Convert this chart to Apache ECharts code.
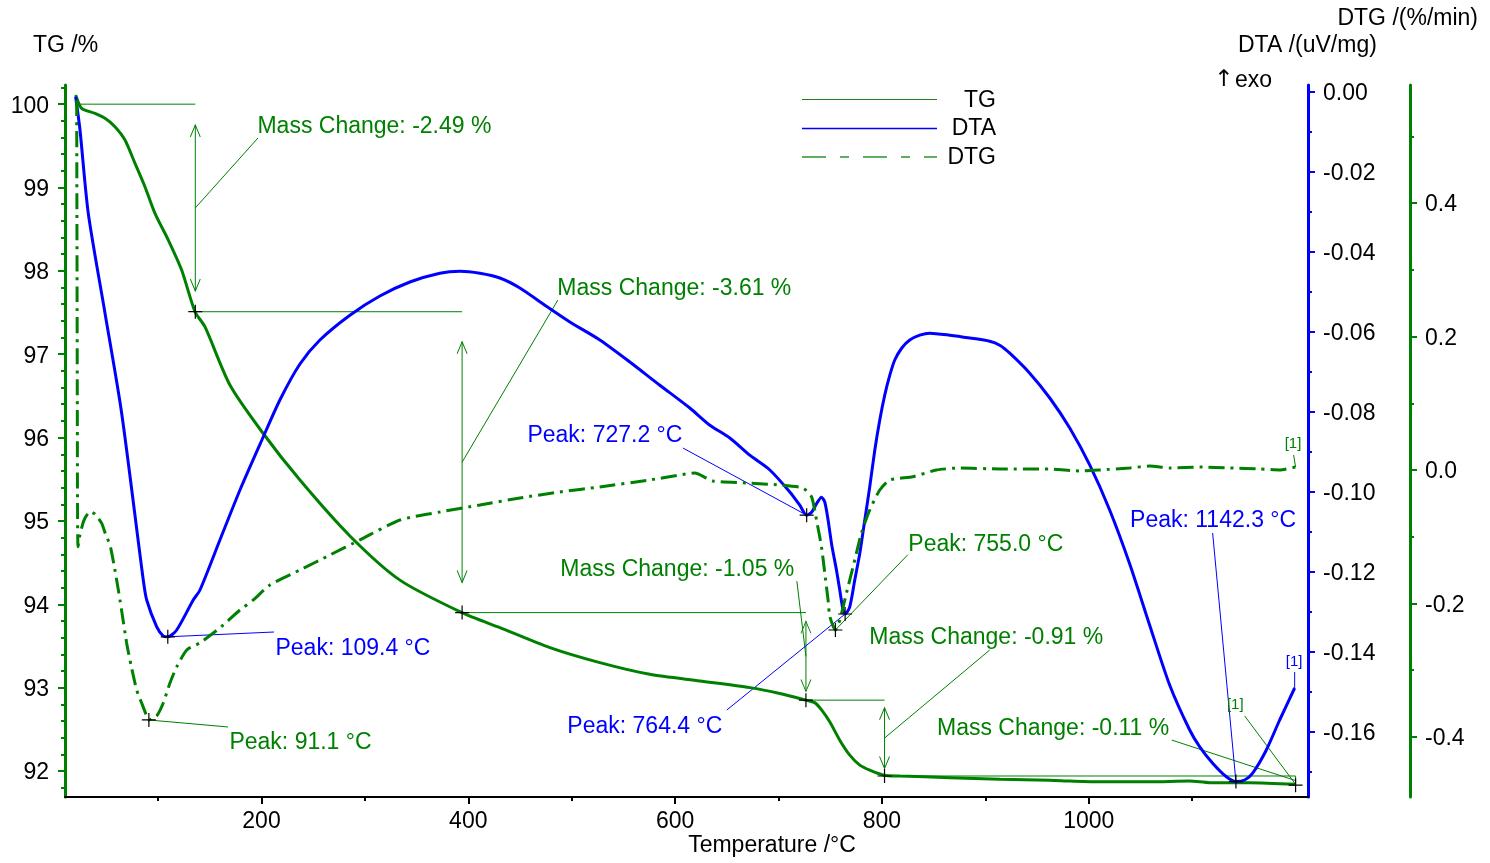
<!DOCTYPE html>
<html><head><meta charset="utf-8">
<script src="https://cdn.jsdelivr.net/npm/echarts@6/dist/echarts.min.js"></script>
<style>html,body{margin:0;padding:0;background:#fff}#c{width:1490px;height:863px}</style>
</head><body><div id="c"></div>
<script>
// ---------------- data ----------------
const tgTemps = [20.3, 26.1, 39, 48.7, 58.3, 68, 77.7, 87.3, 97, 109.9, 122.8, 135.7, 145.3, 169.5, 200.4, 237.2, 285.5, 333.9, 393.8, 430.5, 478.9, 527.2, 575.5, 623.9, 672.2, 701.2, 726.4, 735, 741.8, 749.5, 759.2, 768.9, 778.6, 788.2, 801.8, 817.2, 865.6, 913.9, 962.3, 981.6, 1010.6, 1058.9, 1097.6, 1116.9, 1155.6, 1200];
const tgValues = [100.11, 99.95, 99.89, 99.83, 99.73, 99.57, 99.29, 99.01, 98.69, 98.37, 98.01, 97.51, 97.33, 96.63, 96.07, 95.49, 94.82, 94.29, 93.90, 93.72, 93.48, 93.30, 93.16, 93.08, 93.00, 92.93, 92.85, 92.82, 92.73, 92.59, 92.37, 92.19, 92.07, 92.01, 91.95, 91.94, 91.92, 91.90, 91.89, 91.88, 91.87, 91.87, 91.88, 91.86, 91.86, 91.84];

const dtaTemps = [20.3, 24.5, 32.5, 48.7, 64.8, 85.7, 89, 98.7, 105, 109.4, 118, 134, 140.5, 159.8, 179.2, 200.4, 217.8, 237.2, 256.5, 285.5, 314.5, 343.5, 372.5, 391.9, 411.2, 430.5, 449.9, 474, 498.2, 527.2, 556.2, 585.2, 614.2, 633.6, 652.9, 672.2, 691.6, 710.9, 720.5, 727.2, 732.2, 737, 741.5, 744.7, 747.9, 751.5, 756, 759.2, 762.4, 764.4, 768.9, 773.7, 778.6, 783.4, 788.2, 793.1, 797.9, 802.7, 807.6, 812.4, 819.2, 826.9, 836.6, 846.2, 865.6, 885, 904.2, 913.9, 923.6, 942.9, 962.3, 981.6, 1001, 1020.2, 1039.6, 1058.9, 1078.3, 1097.6, 1107.3, 1119.8, 1133.1, 1142.3, 1150.8, 1158.5, 1171.7, 1184.6, 1199.1];
const dtaValues = [-0.0012, -0.0095, -0.0303, -0.0553, -0.0803, -0.122, -0.127, -0.1337, -0.136, -0.1362, -0.1345, -0.127, -0.1245, -0.112, -0.0995, -0.087, -0.077, -0.068, -0.062, -0.0558, -0.051, -0.0475, -0.0453, -0.0448, -0.0453, -0.0465, -0.049, -0.0533, -0.0575, -0.062, -0.0675, -0.0733, -0.079, -0.0833, -0.0865, -0.0908, -0.0945, -0.1, -0.1033, -0.1058, -0.105, -0.1028, -0.1013, -0.1025, -0.107, -0.1133, -0.1195, -0.1245, -0.1295, -0.1305, -0.1287, -0.122, -0.1153, -0.107, -0.0987, -0.0895, -0.082, -0.0758, -0.0708, -0.067, -0.064, -0.062, -0.0608, -0.0603, -0.0608, -0.0615, -0.0623, -0.0633, -0.0653, -0.0703, -0.0765, -0.084, -0.0933, -0.1045, -0.118, -0.1333, -0.1483, -0.1595, -0.1637, -0.1678, -0.1712, -0.1724, -0.172, -0.1703, -0.1645, -0.157, -0.149];

const dtgTemps = [21.3, 21.5, 21.7, 21.9, 22.1, 22.6, 24.5, 28.4, 34.2, 39, 45.5, 49.6, 53.5, 58.3, 63.2, 69.6, 73.8, 79.3, 84.1, 89, 91.1, 94.1, 98.7, 105, 111.5, 118, 127.7, 140.5, 153.4, 163, 179.2, 192.1, 208.2, 237.2, 266.2, 295.2, 333.9, 372.5, 411.2, 449.9, 488.5, 527.2, 575.5, 604.5, 619, 636.4, 669, 701.2, 723.5, 731.9, 736.7, 741.5, 744.7, 747.9, 749.6, 755, 759.2, 765.7, 772.1, 780.2, 788.2, 797.9, 807.6, 829.8, 852.7, 875.2, 913.9, 962.3, 991.2, 1010.6, 1039.6, 1058.9, 1078.3, 1107.3, 1136.3, 1165.3, 1184.6, 1200];
const dtgValues = [0.554, 0.405, 0.255, 0.105, -0.045, -0.115, -0.097, -0.075, -0.0625, -0.066, -0.08, -0.098, -0.112, -0.15, -0.195, -0.259, -0.292, -0.3295, -0.349, -0.3685, -0.3745, -0.373, -0.3685, -0.349, -0.319, -0.295, -0.2696, -0.259, -0.2442, -0.2322, -0.2097, -0.1947, -0.1722, -0.1498, -0.1273, -0.1048, -0.0749, -0.0629, -0.0524, -0.0419, -0.0329, -0.0254, -0.0149, -0.0075, -0.0045, -0.0164, -0.0194, -0.0224, -0.0269, -0.04, -0.0749, -0.1148, -0.1543, -0.1947, -0.2198, -0.2397, -0.2248, -0.1843, -0.1448, -0.0944, -0.0599, -0.03, -0.015, -0.01, 0.0, 0.003, 0.0015, 0.0015, -0.0015, 0.0, 0.003, 0.006, 0.003, 0.0045, 0.003, 0.0015, 0.0, 0.0045];

// mass change steps (TG)
const massChangeLabels = ['Mass Change: -2.49 %', 'Mass Change: -3.61 %', 'Mass Change: -1.05 %', 'Mass Change: -0.91 %', 'Mass Change: -0.11 %'];
const massStepTemps = [20, 136, 394, 726.5, 802.5, 1200];
const massLevels = [100.0, 97.51, 93.90, 92.85, 91.94, 91.83];

// peaks
const dtaPeakLabels = ['Peak: 109.4 °C', 'Peak: 727.2 °C', 'Peak: 764.4 °C', 'Peak: 1142.3 °C'];
const dtaPeakTemps = [109.4, 727.2, 764.4, 1142.3];
const dtaPeakValues = [-0.1362, -0.1058, -0.1305, -0.1724];
const dtgPeakLabels = ['Peak: 91.1 °C', 'Peak: 755.0 °C'];
const dtgPeakTemps = [91.1, 755.0];
const dtgPeakValues = [-0.3745, -0.2397];

// tick labels
const tempTicks = [200, 400, 600, 800, 1000];
const tempMinorTicks = [100, 300, 500, 700, 900, 1100];
const tgTicks = [92, 93, 94, 95, 96, 97, 98, 99, 100];
const dtaTicks = [0, -0.02, -0.04, -0.06, -0.08, -0.10, -0.12, -0.14, -0.16];
const dtaMinorTicks = [-0.01, -0.03, -0.05, -0.07, -0.09, -0.11, -0.13, -0.15, -0.17];
const dtgTicks = [0.4, 0.2, 0, -0.2, -0.4];
const dtgMinorTicks = [0.5, 0.3, 0.1, -0.1, -0.3];

// ---------------- layout (annotation placement in data coordinates) ----------------
const massLeaderEnds = [[196.6, 99.594], [486.6, 97.65], [717.7, 94.279], [904.2, 93.451], [1080.2, 92.371]];
const massTextAnchors = [[196.6, 99.75, 'left'], [486.6, 97.806, 'left'], [715.7, 94.435, 'right'], [788.2, 93.619, 'left'], [1078.3, 92.527, 'right']];
const dtaLeaderEnds = [[212.1, -0.1350], [607.5, -0.089], [650, -0.1545], [1119.8, -0.11025]];
const dtaTextAnchors = [[214, -0.13875, 'left'], [607.5, -0.0855, 'right'], [646.1, -0.15825, 'right'], [1201, -0.10675, 'right']];
const dtgLeaderEnds = [[167.6, -0.385], [825, -0.127]];
const dtgTextAnchors = [[169.5, -0.406, 'left'], [826, -0.1093, 'left']];

const FONT = '"Liberation Sans", Arial, sans-serif';
const GREEN = '#008000', BLUE = '#0000ff';
const FS = 23;
const PLOT_H = 712;       // grid height in px (863 - 85 - 66)
const LABEL_DROP = 2;     // tick label vertical nudge in px

const zip = (a, b) => a.map((v, i) => [v, b[i]]);
const tgMinorTicks = [];
for (let k = 459; k <= 501; k++) { if (k % 5) tgMinorTicks.push(k / 5); }

const series = [];
function seg(points, yi, color) {
  series.push({ type: 'line', xAxisIndex: 0, yAxisIndex: yi, data: points, symbol: 'none', silent: true,
    lineStyle: { color: color, width: 1 }, z: 3, animation: false });
}

// curves
series.push({ type: 'line', name: 'TG', xAxisIndex: 0, yAxisIndex: 0, data: zip(tgTemps, tgValues), symbol: 'none', smooth: 0.25,
  lineStyle: { color: GREEN, width: 3 }, z: 5, silent: true });
series.push({ type: 'line', name: 'DTA', xAxisIndex: 0, yAxisIndex: 1, data: zip(dtaTemps, dtaValues), symbol: 'none', smooth: 0.25,
  lineStyle: { color: BLUE, width: 3 }, z: 5, silent: true });
series.push({ type: 'line', name: 'DTG', xAxisIndex: 0, yAxisIndex: 2, data: zip(dtgTemps, dtgValues), symbol: 'none', smooth: 0.2,
  lineStyle: { color: GREEN, width: 3, type: [16, 6, 3, 6] }, z: 5, silent: true });

// mass change annotations
const arrowData = [];
const tgMarkers = [];
const massTexts = [];
for (let i = 0; i < massChangeLabels.length; i++) {
  const x0 = massStepTemps[i], x1 = massStepTemps[i + 1];
  const a = massLevels[i], b = massLevels[i + 1];
  seg([[x0, a], [x1, a]], 0, GREEN);
  if (i < massChangeLabels.length - 1) {
    const inset = 0.1 * (a - b);
    seg([[x1, a - inset], [x1, b + inset]], 0, GREEN);
    arrowData.push({ value: [x1, a - inset], symbol: 'path://M0,12L5,0L10,12', symbolOffset: [0, 6] });
    arrowData.push({ value: [x1, b + inset], symbol: 'path://M0,0L5,12L10,0', symbolOffset: [0, -6] });
  } else {
    seg([[x1, a], [x1, b]], 0, GREEN);
  }
  seg([[x1, (a + b) / 2], massLeaderEnds[i]], 0, GREEN);
  tgMarkers.push([x1, b]);
  const t = massTextAnchors[i];
  massTexts.push({ value: [t[0], t[1]], label: { formatter: massChangeLabels[i], align: t[2] } });
}
// end reference "[1]"
seg([[1200, 91.84], [1150.8, 92.66]], 0, GREEN);
seg([[1200, 0.0045], [1198.1, 0.0225]], 2, GREEN);
seg([[1199.1, -0.149], [1199.1, -0.145]], 1, BLUE);

// peak annotations
const dtaTexts = [], dtgTexts = [];
for (let i = 0; i < dtaPeakLabels.length; i++) {
  seg([[dtaPeakTemps[i], dtaPeakValues[i]], dtaLeaderEnds[i]], 1, BLUE);
  const t = dtaTextAnchors[i];
  dtaTexts.push({ value: [t[0], t[1]], label: { formatter: dtaPeakLabels[i], align: t[2] } });
}
for (let i = 0; i < dtgPeakLabels.length; i++) {
  seg([[dtgPeakTemps[i], dtgPeakValues[i]], dtgLeaderEnds[i]], 2, GREEN);
  const t = dtgTextAnchors[i];
  dtgTexts.push({ value: [t[0], t[1]], label: { formatter: dtgPeakLabels[i], align: t[2] } });
}

const crossSym = 'path://M0,7L14,7M7,0L7,14';
function markers(data, yi) {
  series.push({ type: 'scatter', xAxisIndex: 0, yAxisIndex: yi, data: data, symbol: crossSym, symbolSize: 14, silent: true, z: 10,
    itemStyle: { color: 'rgba(0,0,0,0)', borderColor: '#000', borderWidth: 1.2, opacity: 1 } });
}
markers(tgMarkers, 0);
markers(zip(dtaPeakTemps, dtaPeakValues), 1);
markers(zip(dtgPeakTemps, dtgPeakValues), 2);

series.push({ type: 'scatter', xAxisIndex: 0, yAxisIndex: 0, data: arrowData, symbolSize: [10, 12], silent: true, z: 6,
  itemStyle: { color: 'rgba(0,0,0,0)', borderColor: GREEN, borderWidth: 1, opacity: 1 } });

function texts(data, yi, color, size) {
  series.push({ type: 'scatter', xAxisIndex: 0, yAxisIndex: yi, data: data, symbol: 'circle', symbolSize: 1, silent: true, z: 12,
    itemStyle: { color: 'rgba(0,0,0,0)', opacity: 1 },
    label: { show: true, position: [0, 2], verticalAlign: 'middle', color: color, opacity: 1, fontSize: size || FS, fontFamily: FONT } });
}
texts(massTexts, 0, GREEN);
texts(dtaTexts, 1, BLUE);
texts(dtgTexts, 2, GREEN);
texts([{ value: [1142.1, 92.816], label: { formatter: '[1]', align: 'center' } }], 0, GREEN, 15);
texts([{ value: [1198, 0.042], label: { formatter: '[1]', align: 'center' } }], 2, GREEN, 15);
texts([{ value: [1199, -0.142], label: { formatter: '[1]', align: 'center' } }], 1, BLUE, 15);

const labelBase = { color: '#000', fontSize: FS, fontFamily: FONT };
// step: label spacing (used to snap the nudged label position back to its tick value)
function yAx(pos, offset, min, max, color, ticks, step, decimals, margin, minor) {
  const drop = LABEL_DROP * (max - min) / PLOT_H;
  const fmt = v => { let s = Math.round(v / step) * step; if (Math.abs(s) < 1e-9) s = 0; return s.toFixed(decimals); };
  return {
    type: 'value', position: pos, offset: offset, min: min, max: max, scale: true,
    axisLine: { show: !minor, onZero: false, lineStyle: { color: color, width: 3 } },
    axisTick: { show: true, customValues: ticks, length: minor ? 4 : 7, lineStyle: { color: color, width: 2 } },
    axisLabel: minor ? { show: false } : Object.assign({ show: true, customValues: ticks.map(t => t - drop), margin: margin, formatter: fmt }, labelBase),
    splitLine: { show: false }
  };
}

function gText(x, y, text, align, family) {
  return { type: 'text', x: x, y: y, style: { text: text, fontSize: FS, fontFamily: family || FONT, fill: '#000', align: align || 'left', verticalAlign: 'middle' } };
}

const option = {
  animation: false,
  backgroundColor: '#fff',
  grid: { left: 65, right: 182, top: 85, bottom: 66 },
  xAxis: [
    { type: 'value', min: 10, max: 1212, position: 'bottom',
      axisLine: { onZero: false, lineStyle: { color: '#000', width: 2 } },
      axisTick: { customValues: tempTicks, length: 7, lineStyle: { color: '#000', width: 2 } },
      axisLabel: Object.assign({ customValues: tempTicks, margin: 13, formatter: v => String(v) }, labelBase),
      splitLine: { show: false } },
    { type: 'value', min: 10, max: 1212, position: 'bottom',
      axisLine: { show: false, onZero: false },
      axisTick: { customValues: tempMinorTicks, length: 4, lineStyle: { color: '#000', width: 2 } },
      axisLabel: { show: false }, splitLine: { show: false } }
  ],
  yAxis: [
    yAx('left', 0, 91.688, 100.23, GREEN, tgTicks, 1, 0, 16, false),
    yAx('right', 0, -0.17625, 0.00175, BLUE, dtaTicks, 0.02, 2, 15, false),
    yAx('right', 102, -0.4899, 0.5768, GREEN, dtgTicks, 0.2, 1, 15, false),
    yAx('left', 0, 91.688, 100.23, GREEN, tgMinorTicks, 1, 0, 0, true),
    yAx('right', 0, -0.17625, 0.00175, BLUE, dtaMinorTicks, 0.02, 2, 0, true),
    yAx('right', 102, -0.4899, 0.5768, GREEN, dtgMinorTicks, 0.2, 1, 0, true)
  ],
  series: series,
  graphic: [
    gText(33, 46, 'TG /%'),
    gText(1238, 46, 'DTA /(uV/mg)'),
    gText(1478, 19, 'DTG /(%/min)', 'right'),
    gText(1214, 80, '↑', 'left', '"DejaVu Sans", ' + FONT),
    gText(1235, 81, 'exo'),
    gText(772, 846, 'Temperature /°C', 'center'),
    { type: 'line', shape: { x1: 802, y1: 99.5, x2: 937, y2: 99.5 }, style: { stroke: '#1f7f1f', lineWidth: 1 } },
    { type: 'line', shape: { x1: 802, y1: 128.5, x2: 937, y2: 128.5 }, style: { stroke: BLUE, lineWidth: 1.5 } },
    { type: 'line', shape: { x1: 802, y1: 157, x2: 937, y2: 157 }, style: { stroke: '#5fae5f', lineWidth: 2, lineDash: [24, 14, 9, 14] } },
    gText(996, 101, 'TG', 'right'),
    gText(996, 129, 'DTA', 'right'),
    gText(996, 158, 'DTG', 'right')
  ]
};

const chart = echarts.init(document.getElementById('c'));
chart.setOption(option);
</script>
</body></html>
